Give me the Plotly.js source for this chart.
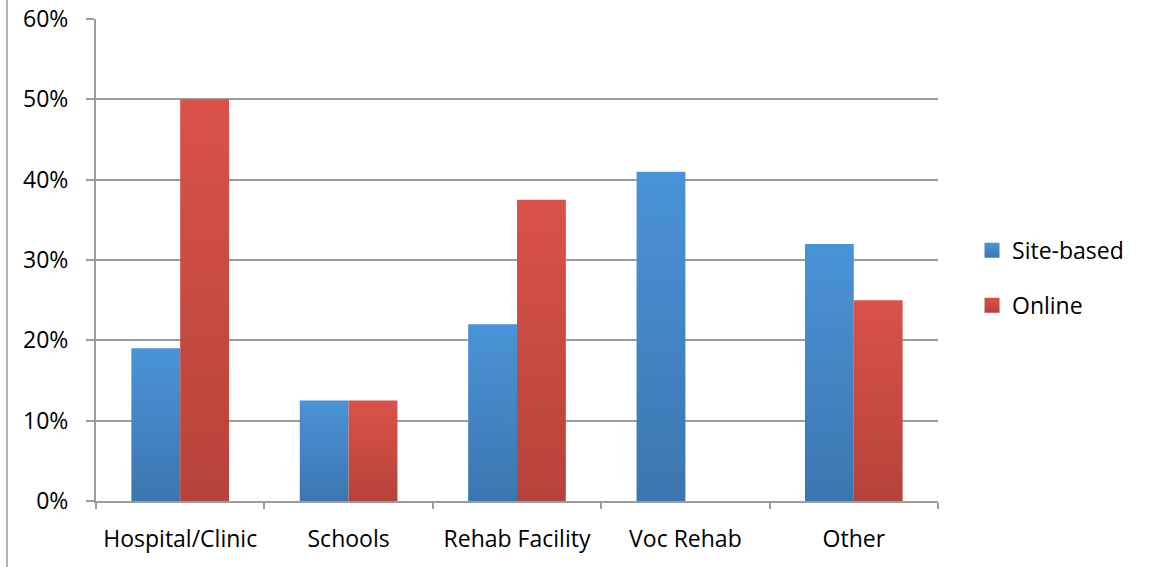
<!DOCTYPE html>
<html>
<head>
<meta charset="utf-8">
<script src="https://cdn.plot.ly/plotly-3.0.1.min.js"></script>
<style>
html,body{margin:0;padding:0;background:#fff;}
#wrap{position:relative;width:1153px;height:567px;}
#chart{width:1153px;height:567px;}
#edge{position:absolute;left:6px;top:0;width:2px;height:567px;background:#b5b5b5;}
</style>
</head>
<body>
<div id="wrap"><div id="chart"></div><div id="edge"></div></div>
<script>
const categories = ["Hospital/Clinic", "Schools", "Rehab Facility", "Voc Rehab", "Other"];
const siteBased = [0.19, 0.125, 0.22, 0.41, 0.32];
const online = [0.50, 0.125, 0.375, 0, 0.25];
const yTicks = [0, 0.1, 0.2, 0.3, 0.4, 0.5, 0.6];
const yTickLabels = ["0%", "10%", "20%", "30%", "40%", "50%", "60%"];

const font = {family: "Open Sans, Liberation Sans, sans-serif", size: 23, color: "#000"};

const traces = [
  {type: "bar", name: "Site-based", x: categories, y: siteBased, legendgroup: "a",
   marker: {color: "#4586c7"}},
  {type: "bar", name: "Online", x: categories, y: online, legendgroup: "b",
   marker: {color: "#cc4b42"}}
];

const layout = {
  width: 1153, height: 567,
  margin: {l: 96, r: 215, t: 19, b: 66},
  paper_bgcolor: "#fff", plot_bgcolor: "#fff",
  font: font,
  barmode: "group", bargap: 0.42, bargroupgap: 0,
  showlegend: true,
  legend: {x: 1.0404, xanchor: "left", y: 0.463, yanchor: "middle",
    traceorder: "grouped", tracegroupgap: 22, font: font, itemwidth: 30},
  xaxis: {type: "category", showgrid: false, showline: true, linecolor: "#9c9c9c", linewidth: 2,
    ticks: "outside", tickson: "boundaries", ticklen: 6, tickcolor: "#9c9c9c", tickwidth: 2,
    ticklabelstandoff: 16, tickfont: font, fixedrange: true},
  yaxis: {range: [0, 0.6], tickvals: yTicks, ticktext: yTickLabels, showgrid: true,
    gridcolor: "#9c9c9c", gridwidth: 2, showline: true, linecolor: "#9c9c9c", linewidth: 2,
    ticks: "outside", ticklen: 8, tickcolor: "#9c9c9c", tickwidth: 2,
    ticklabelstandoff: 13, tickfont: font, zeroline: false, fixedrange: true}
};

Plotly.newPlot("chart", traces, layout, {displayModeBar: false, staticPlot: true}).then(function(gd){
  const svg = gd.querySelector("svg.main-svg");
  const ns = "http://www.w3.org/2000/svg";
  let defs = svg.querySelector("defs");
  if (!defs) { defs = document.createElementNS(ns, "defs"); svg.insertBefore(defs, svg.firstChild); }
  function grad(id, top, bottom) {
    const g = document.createElementNS(ns, "linearGradient");
    g.setAttribute("id", id); g.setAttribute("x1", "0"); g.setAttribute("y1", "0");
    g.setAttribute("x2", "0"); g.setAttribute("y2", "1");
    [[0, top], [1, bottom]].forEach(function(s){
      const st = document.createElementNS(ns, "stop");
      st.setAttribute("offset", s[0]); st.setAttribute("stop-color", s[1]);
      g.appendChild(st);
    });
    defs.appendChild(g);
  }
  grad("gBlue", "#4a93d8", "#3c76b0");
  grad("gRed", "#da5249", "#b6433a");
  const groups = gd.querySelectorAll(".barlayer .trace");
  groups.forEach(function(t, i){
    t.querySelectorAll("path").forEach(function(p){
      p.style.fill = i === 0 ? "url(#gBlue)" : "url(#gRed)";
    });
  });
  const legendItems = gd.querySelectorAll(".legend .traces");
  legendItems.forEach(function(t, i){
    t.querySelectorAll(".legendpoints path").forEach(function(p){
      p.setAttribute("d", "M7.5,7.5H-7.5V-7.5H7.5Z");
      p.style.fill = i === 0 ? "url(#gBlue)" : "url(#gRed)";
      p.style.stroke = "none";
    });
  });
});
</script>
</body>
</html>
